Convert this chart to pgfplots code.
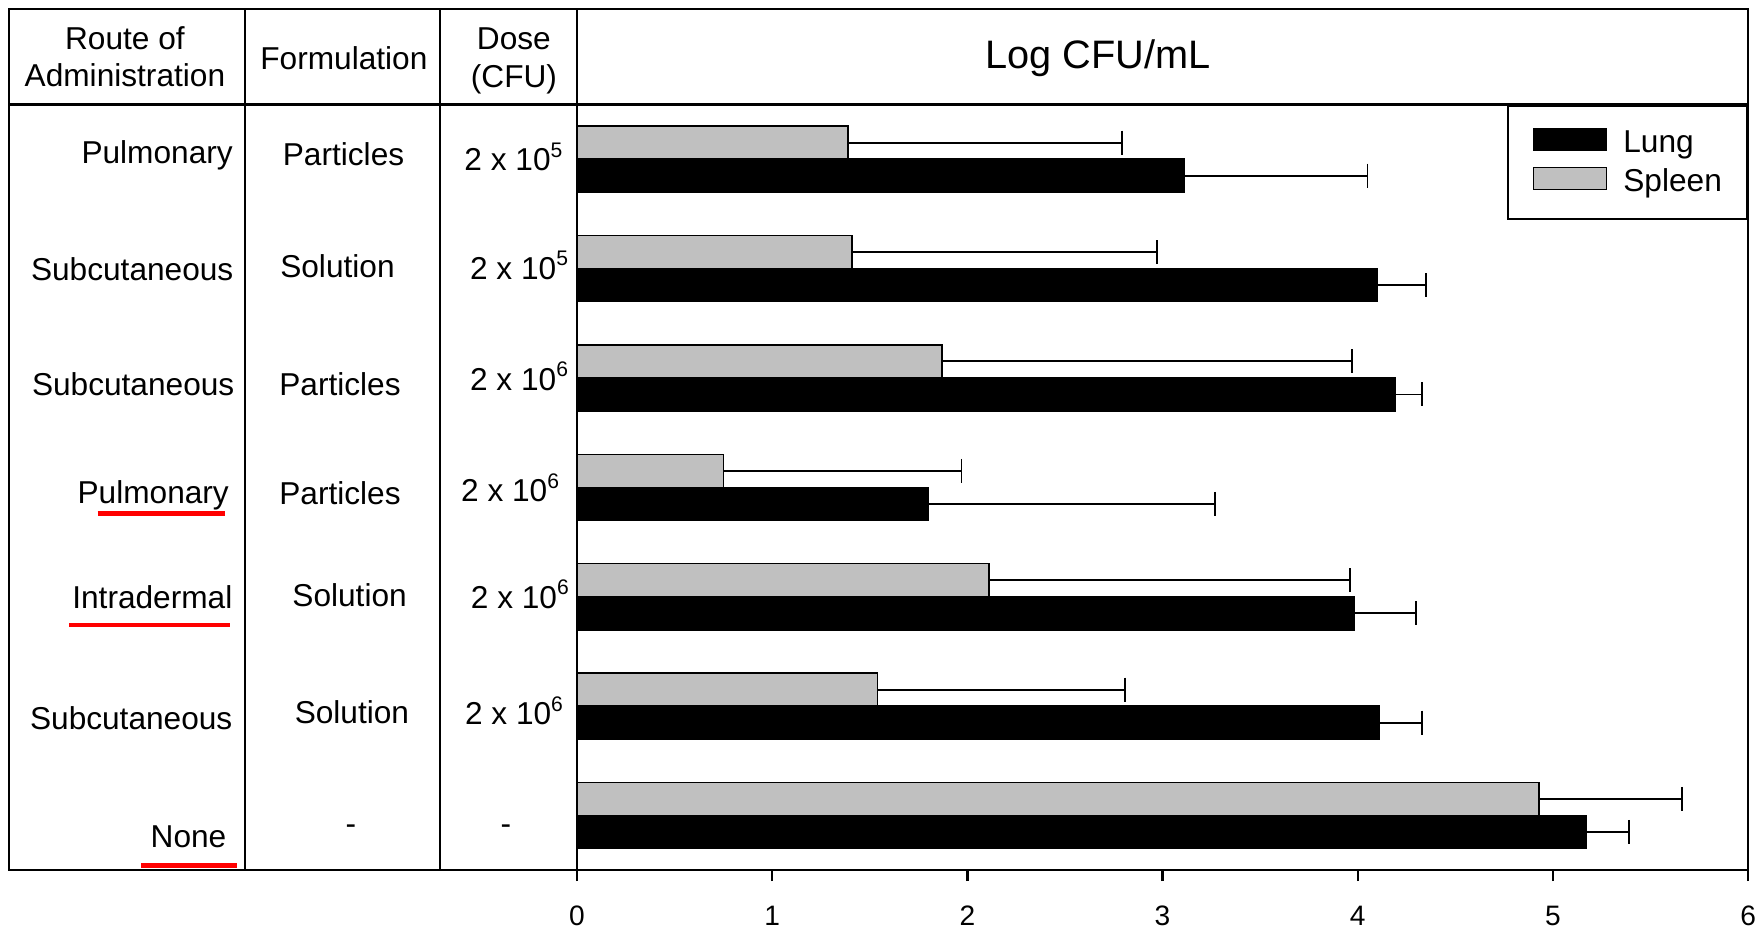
\documentclass[border=0pt]{standalone}
\usepackage{fontspec}
\setmainfont{Liberation Sans}
\usepackage{pgfplots}
\usepackage{pgfplotstable}
\pgfplotsset{compat=1.18}
\definecolor{spleengray}{RGB}{192,192,192}
\newcommand\tf{\fontsize{9}{10.5}\selectfont}
\pgfplotstableread{
y x ex
0 3.11 0.94
1 4.10 0.25
2 4.19 0.14
3 1.80 1.47
4 3.98 0.32
5 4.11 0.22
6 5.17 0.22
}\lungtab
\pgfplotstableread{
y x ex
0 1.39 1.40
1 1.41 1.56
2 1.87 2.10
3 0.75 1.22
4 2.11 1.85
5 1.54 1.27
6 4.93 0.73
}\spleentab
\begin{document}
\begin{tikzpicture}
\begin{axis}[
  scale only axis, width=117.1mm, height=76.55mm,
  xmin=0, xmax=6, ymin=-0.5, ymax=6.5, y dir=reverse,
  xbar, bar width=0.302,
  ytick=\empty, xtick={0,1,2,3,4,5,6}, xtick pos=bottom,
  tick align=outside, major tick length=1.1mm,
  tick style={line width=0.7pt, black},
  axis line style={line width=0.7pt},
  clip=false,
  /pgf/number format/assume math mode=true,
  xticklabel style={font=\fontsize{8}{9}\selectfont, anchor=north, inner sep=0pt, yshift=-2.4mm},
  legend style={at={(1,1)}, anchor=north east, draw=black, line width=0.7pt,
     font=\tf, inner xsep=2.5mm, inner ysep=2.2mm, row sep=0.92mm,
     nodes={inner sep=0pt}, legend cell align=left,
     /tikz/every odd column/.append style={column sep=1.6mm}},
  legend image code/.code={\draw[#1,line width=0.45pt] (0mm,-0.67mm) rectangle (7.3mm,1.53mm);},
]
\addplot[fill=black, draw=black, line width=0.45pt, bar shift=0.151,
  error bars/.cd, x dir=plus, x explicit, error mark=|,
  error bar style={line width=0.55pt, black},
  error mark options={mark size=1.2mm, line width=0.55pt, black}]
  table[x=x, y=y, x error=ex]{\lungtab};
\addlegendentry{Lung}
\addplot[fill=spleengray, draw=black, line width=0.45pt, bar shift=-0.151,
  error bars/.cd, x dir=plus, x explicit, error mark=|,
  error bar style={line width=0.55pt, black},
  error mark options={mark size=1.2mm, line width=0.55pt, black}]
  table[x=x, y=y, x error=ex]{\spleentab};
\addlegendentry{Spleen}

% bounding box
\path (axis cs:-2.956,-1.456) rectangle (axis cs:6.066,7.053);
% table frame
\draw[line width=0.7pt] (axis cs:-2.910,-1.374) rectangle (axis cs:6,6.5);
\draw[line width=0.7pt] (axis cs:-2.910,-0.5) -- (axis cs:0,-0.5);
\draw[line width=0.7pt] (axis cs:-1.701,-1.374) -- (axis cs:-1.701,6.5);
\draw[line width=0.7pt] (axis cs:-0.702,-1.374) -- (axis cs:-0.702,6.5);
\draw[line width=0.7pt] (axis cs:0,-1.374) -- (axis cs:0,-0.5);

% header
\node[anchor=base, inner sep=0pt, font=\tf] at (axis cs:-2.316,-1.0) {Route of};
\node[anchor=base, inner sep=0pt, font=\tf] at (axis cs:-2.316,-0.669) {Administration};
\node[anchor=base, inner sep=0pt, font=\tf] at (axis cs:-1.194,-0.816) {Formulation};
\node[anchor=base, inner sep=0pt, font=\tf] at (axis cs:-0.323,-0.999) {Dose};
\node[anchor=base, inner sep=0pt, font=\tf] at (axis cs:-0.323,-0.657) {(CFU)};
\node[anchor=base, inner sep=0pt, font=\fontsize{11.3}{13}\selectfont] at (axis cs:2.669,-0.83) {Log CFU/mL};

% route
\node[anchor=base east, inner sep=0pt, font=\tf] at (axis cs:-1.760,0.038) {Pulmonary};
\node[anchor=base east, inner sep=0pt, font=\tf] at (axis cs:-1.757,1.112) {Subcutaneous};
\node[anchor=base east, inner sep=0pt, font=\tf] at (axis cs:-1.752,2.158) {Subcutaneous};
\node[anchor=base east, inner sep=0pt, font=\tf] at (axis cs:-1.780,3.149) {Pulmonary};
\node[anchor=base east, inner sep=0pt, font=\tf] at (axis cs:-1.762,4.109) {Intradermal};
\node[anchor=base east, inner sep=0pt, font=\tf] at (axis cs:-1.762,5.216) {Subcutaneous};
\node[anchor=base east, inner sep=0pt, font=\tf] at (axis cs:-1.793,6.29) {None};

% formulation
\node[anchor=base, inner sep=0pt, font=\tf] at (axis cs:-1.196,0.053) {Particles};
\node[anchor=base, inner sep=0pt, font=\tf] at (axis cs:-1.227,1.081) {Solution};
\node[anchor=base, inner sep=0pt, font=\tf] at (axis cs:-1.214,2.158) {Particles};
\node[anchor=base, inner sep=0pt, font=\tf] at (axis cs:-1.214,3.158) {Particles};
\node[anchor=base, inner sep=0pt, font=\tf] at (axis cs:-1.165,4.086) {Solution};
\node[anchor=base, inner sep=0pt, font=\tf] at (axis cs:-1.153,5.16) {Solution};
\node[anchor=base, inner sep=0pt, font=\tf] at (axis cs:-1.158,6.17) {-};

% dose
\node[anchor=base, inner sep=0pt, font=\tf] at (axis cs:-0.321,0.106) {2 x 10\textsuperscript{5}};
\node[anchor=base, inner sep=0pt, font=\tf] at (axis cs:-0.292,1.099) {2 x 10\textsuperscript{5}};
\node[anchor=base, inner sep=0pt, font=\tf] at (axis cs:-0.292,2.112) {2 x 10\textsuperscript{6}};
\node[anchor=base, inner sep=0pt, font=\tf] at (axis cs:-0.338,3.134) {2 x 10\textsuperscript{6}};
\node[anchor=base, inner sep=0pt, font=\tf] at (axis cs:-0.288,4.107) {2 x 10\textsuperscript{6}};
\node[anchor=base, inner sep=0pt, font=\tf] at (axis cs:-0.318,5.168) {2 x 10\textsuperscript{6}};
\node[anchor=base, inner sep=0pt, font=\tf] at (axis cs:-0.364,6.17) {-};

% red underlines
\draw[red, line width=0.45mm] (axis cs:-2.456,3.240) -- (axis cs:-1.805,3.240);
\draw[red, line width=0.45mm] (axis cs:-2.600,4.257) -- (axis cs:-1.780,4.257);
\draw[red, line width=0.45mm] (axis cs:-2.231,6.456) -- (axis cs:-1.742,6.456);
\end{axis}
\end{tikzpicture}
\end{document}
